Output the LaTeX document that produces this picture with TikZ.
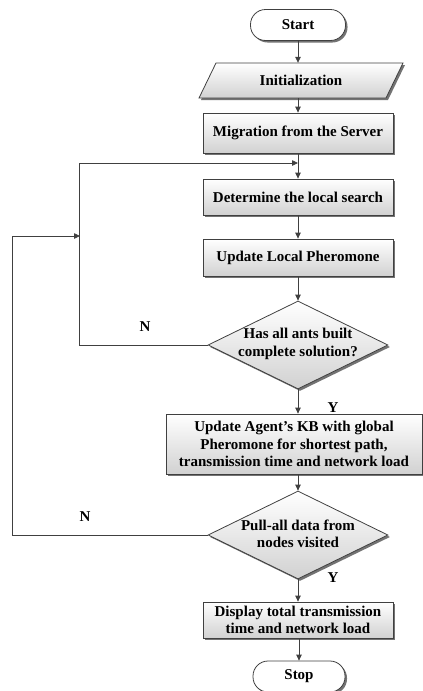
\documentclass[tikz,border=0pt]{standalone}
\usepackage{fontspec}
\setmainfont{Liberation Serif}
\usetikzlibrary{shapes.geometric,shadows,arrows.meta}

\begin{document}
\begin{tikzpicture}[x=1pt,y=-1pt,
    line/.style={draw=black!75,line width=0.8pt},
    arr/.style={line,->,>={Triangle[length=6pt,width=5.5pt]}},
    txt/.style={font=\fontsize{15}{17.5}\selectfont\bfseries,align=center},
    shade/.style={top color=white,bottom color=black!18},
    shadow/.style={drop shadow={shadow xshift=2pt,shadow yshift=-2pt,fill=black!55,opacity=1}},
    process/.style={rectangle,line,shade,shadow,txt,inner sep=0pt},
    terminal/.style={rectangle,rounded corners=15pt,line,fill=white,shadow,txt,
        minimum height=31pt,inner sep=0pt},
    decision/.style={diamond,line,shade,shadow,minimum width=180pt,minimum height=88pt,
        inner sep=0pt,aspect=2.05},
    yn/.style={font=\fontsize{15}{17.5}\selectfont\bfseries}]
    \useasboundingbox (0,0) rectangle (423,691);

    % input box (parallelogram)
    \path[line,shade,shadow] (216,63) -- (403,63) -- (386,98) -- (199,98) -- cycle;

    % flow nodes
    \node[terminal,minimum width=95pt] (start) at (298,25) {Start};
    \node[txt,minimum width=170pt,minimum height=35pt,inner sep=0pt] (init) at (301,80.5) {Initialization};
    \node[process,minimum width=190pt,minimum height=40pt] (mig) at (298,133) {Migration from the Server};
    \node[process,minimum width=190pt,minimum height=36pt] (det) at (298,197) {Determine the local search};
    \node[process,minimum width=190pt,minimum height=37pt] (upd) at (298,257.5) {Update Local Pheromone};
    \node[decision] (ants) at (298,345) {};
    \node[txt] (antstxt) at (298,344) {Has all ants built\\complete solution?};
    \node[process,minimum width=256pt,minimum height=60pt] (kb) at (294,444)
        {Update Agent's KB with global\\Pheromone for shortest path,\\transmission time and network load};
    \node[decision] (pull) at (298,535) {};
    \node[txt] (pulltxt) at (298,534) {Pull-all data from\\nodes visited};
    \node[process,minimum width=190pt,minimum height=36pt] (disp) at (298,620)
        {Display total transmission\\time and network load};
    \node[terminal,minimum width=92pt] (stop) at (299,676.5) {Stop};

    % merge points of the loops
    \coordinate (m1) at (298,163);
    \coordinate (m2) at (80,236);

    % straight connectors
    \draw[arr] (start) -- (start.south |- init.north);
    \draw[arr] (init.south -| start.south) -- (mig.north);
    \draw[arr] (mig) -- (det);
    \draw[arr] (det) -- (upd);
    \draw[arr] (upd) -- (ants);
    \draw[arr] (ants.south) -- (ants.south |- kb.north);
    \draw[arr] (pull.north |- kb.south) -- (pull.north);
    \draw[arr] (pull.south) -- (disp.north);
    \draw[arr] (disp.south -| stop.north) -- (stop.north);

    % loops back
    \draw[arr] (ants.west) -- ++(-128,0) |- (m1);
    \draw[arr] (pull.west) -- ++(-195,0) |- (m2);

    % branch labels
    \node[yn] (n1) at (145,327) {N};
    \node[yn] (y1) at (333,408) {Y};
    \node[yn] (n2) at (85,517) {N};
    \node[yn] (y2) at (333,578) {Y};
\end{tikzpicture}
\end{document}
